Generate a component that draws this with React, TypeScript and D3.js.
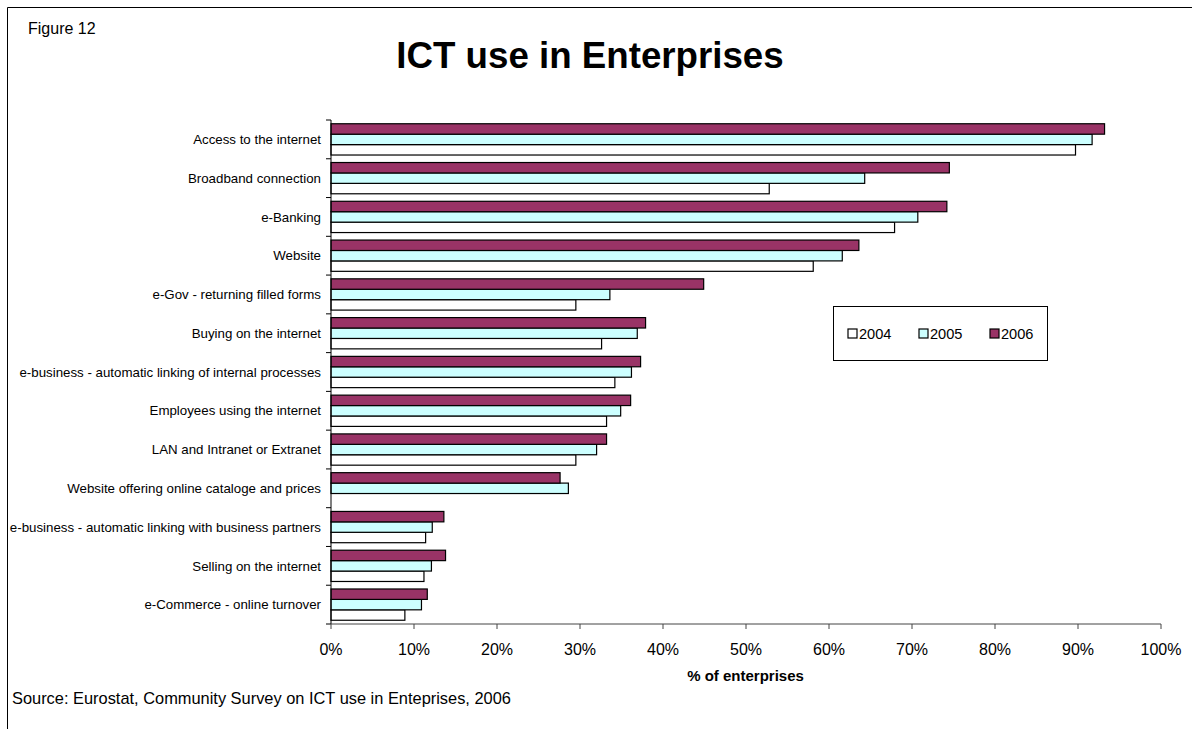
import React from "react";
import * as d3 from "d3";

const categories = [
  "Access to the internet",
  "Broadband connection",
  "e-Banking",
  "Website",
  "e-Gov - returning filled forms",
  "Buying on the internet",
  "e-business - automatic linking of internal processes",
  "Employees using the internet",
  "LAN and Intranet or Extranet",
  "Website offering online cataloge and prices",
  "e-business - automatic linking with business partners",
  "Selling on the internet",
  "e-Commerce - online turnover",
];

const years = ["2004", "2005", "2006"];

const values2004: (number | null)[] = [89.7, 52.8, 67.9, 58.1, 29.5, 32.6, 34.2, 33.2, 29.5, null, 11.4, 11.2, 8.9];
const values2005: (number | null)[] = [91.7, 64.3, 70.7, 61.6, 33.6, 36.9, 36.2, 34.9, 32.0, 28.6, 12.2, 12.1, 10.9];
const values2006: (number | null)[] = [93.2, 74.5, 74.2, 63.6, 44.9, 37.9, 37.3, 36.1, 33.2, 27.6, 13.6, 13.8, 11.6];

const xTicks = [0, 10, 20, 30, 40, 50, 60, 70, 80, 90, 100];

const colors: Record<string, string> = { "2004": "#FFFFFF", "2005": "#CCFFFF", "2006": "#993366" };

const FONT = "'Liberation Sans', Arial, Helvetica, sans-serif";

export default function App() {
  const W = 1192;
  const H = 729;
  const x = d3.scaleLinear().domain([0, 100]).range([331, 1161]);
  const y = d3.scaleBand<string>().domain(categories).range([120, 624]).paddingInner(0).paddingOuter(0);
  const inner = d3
    .scaleBand<string>()
    .domain(["2006", "2005", "2004"])
    .range([0, y.bandwidth()])
    .paddingInner(0)
    .paddingOuter(0.36);

  const series: Record<string, (number | null)[]> = { "2004": values2004, "2005": values2005, "2006": values2006 };

  const boundaries = d3.range(categories.length + 1).map((i) => 120 + i * y.step());

  const legendItems = years.map((yr, i) => ({ yr, x: 848 + i * 71 }));

  return (
    <svg
      width={W}
      height={H}
      style={{ position: "fixed", left: 0, top: 0, display: "block", background: "#fff" }}
      fontFamily={FONT}
    >
      <rect x={0} y={0} width={W} height={H} fill="#fff" />
      {/* frame */}
      <line x1={7.5} y1={7.5} x2={W} y2={7.5} stroke="#000" strokeWidth={1} />
      <line x1={7.5} y1={7.5} x2={7.5} y2={H} stroke="#000" strokeWidth={1} />

      <text x={28} y={34} fontSize={16} fill="#000">Figure 12</text>
      <text x={590} y={68} fontSize={36.7} fontWeight="bold" textAnchor="middle" fill="#000">
        ICT use in Enterprises
      </text>

      {/* bars */}
      {categories.map((c, ci) => (
        <g key={c}>
          {years.map((yr) => {
            const v = series[yr][ci];
            if (v == null) return null;
            const by = (y(c) as number) + (inner(yr) as number);
            return (
              <rect
                key={yr}
                x={x(0)}
                y={by}
                width={x(v) - x(0)}
                height={inner.bandwidth()}
                fill={colors[yr]}
                stroke="#000"
                strokeWidth={1.2}
              />
            );
          })}
          <text
            x={321}
            y={(y(c) as number) + y.bandwidth() / 2}
            dy="0.35em"
            fontSize={13.3}
            textAnchor="end"
            fill="#000"
          >
            {c}
          </text>
        </g>
      ))}

      {/* y axis */}
      <line x1={331} y1={120} x2={331} y2={624} stroke="#000" strokeWidth={1} />
      {boundaries.map((b, i) => (
        <line key={i} x1={326} y1={b} x2={331} y2={b} stroke="#000" strokeWidth={1} />
      ))}

      {/* x axis */}
      <line x1={x(0)} y1={624} x2={x(100)} y2={624} stroke="#444" strokeWidth={1} />
      {xTicks.map((t) => (
        <g key={t}>
          <line x1={x(t)} y1={624} x2={x(t)} y2={629} stroke="#444" strokeWidth={1} />
          <text x={x(t)} y={655} fontSize={16} textAnchor="middle" fill="#000">
            {t}%
          </text>
        </g>
      ))}
      <text x={745.5} y={681} fontSize={15} fontWeight="bold" textAnchor="middle" fill="#000">
        % of enterprises
      </text>

      <text x={12} y={704} fontSize={16.4} fill="#000">
        Source: Eurostat, Community Survey on ICT use in Enteprises, 2006
      </text>

      {/* legend */}
      <rect x={833.5} y={306.5} width={214} height={54} fill="#fff" stroke="#000" strokeWidth={1} />
      {legendItems.map((it) => (
        <g key={it.yr}>
          <rect x={it.x} y={329} width={9} height={9} fill={colors[it.yr]} stroke="#000" strokeWidth={1.2} />
          <text x={it.x + 11} y={338.5} fontSize={14.6} fill="#000">
            {it.yr}
          </text>
        </g>
      ))}
    </svg>
  );
}
